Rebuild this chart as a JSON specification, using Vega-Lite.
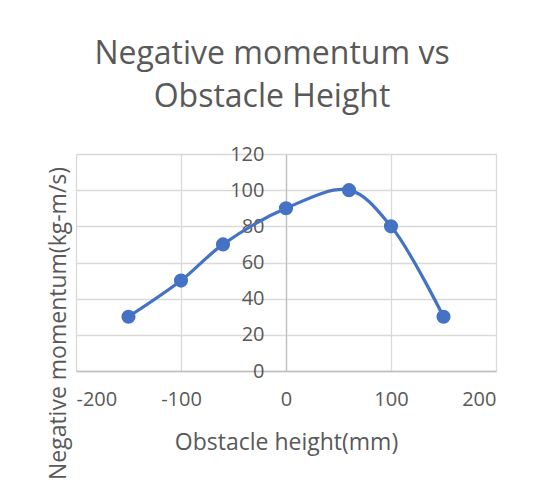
{
  "$schema": "https://vega.github.io/schema/vega-lite/v6.json",
  "autosize": {"type": "none"},
  "width": 420,
  "height": 217,
  "padding": {"left": 76, "top": 154, "right": 39, "bottom": 115},
  "background": "white",
  "config": {
    "font": "Open Sans",
    "view": {"stroke": null},
    "axis": {"labelColor": "#595959", "titleColor": "#595959", "labelFontSize": 20, "titleFontSize": 23, "titleFontWeight": "normal", "labelFont": "Open Sans", "titleFont": "Open Sans"}
  },
  "title": {
    "text": ["Negative momentum vs", "Obstacle Height"],
    "fontSize": 32,
    "fontWeight": "normal",
    "color": "#595959",
    "font": "Open Sans",
    "anchor": "middle",
    "frame": "group",
    "lineHeight": 43,
    "dx": -14,
    "offset": 30
  },
  "data": {
    "values": [
      {"h": -150, "m": 30},
      {"h": -100, "m": 50},
      {"h": -60, "m": 70},
      {"h": 0, "m": 90},
      {"h": 60, "m": 100},
      {"h": 100, "m": 80},
      {"h": 150, "m": 30}
    ]
  },
  "encoding": {
    "x": {
      "field": "h", "type": "quantitative",
      "scale": {"domain": [-200, 200], "nice": false},
      "axis": {
        "values": [-200, -100, 0, 100, 200],
        "labelExpr": "'' + datum.value",
        "title": "Obstacle height(mm)",
        "grid": true, "gridColor": "#D9D9D9", "gridWidth": 1.3,
        "domainColor": "#BFBFBF", "domainWidth": 1.3,
        "ticks": false, "labelPadding": 18,
        "titleY": 71, "titleBaseline": "middle"
      }
    },
    "y": {
      "field": "m", "type": "quantitative",
      "scale": {"domain": [0, 120], "nice": false},
      "axis": {
        "values": [0, 20, 40, 60, 80, 100, 120],
        "labelExpr": "'' + datum.value",
        "title": "Negative momentum(kg-m/s)",
        "offset": -210,
        "grid": true, "gridColor": "#D9D9D9", "gridWidth": 1.3,
        "domainColor": "#BFBFBF", "domainWidth": 1.3,
        "ticks": false, "labelPadding": 22,
        "titleX": -228, "titleY": 169, "titleAngle": -90,
        "titleAlign": "center", "titleBaseline": "middle"
      }
    }
  },
  "layer": [
    {"mark": {"type": "line", "interpolate": "catmull-rom", "color": "#4472C4", "strokeWidth": 3.2}},
    {"mark": {"type": "point", "filled": true, "opacity": 1, "color": "#4472C4", "size": 200}}
  ]
}
